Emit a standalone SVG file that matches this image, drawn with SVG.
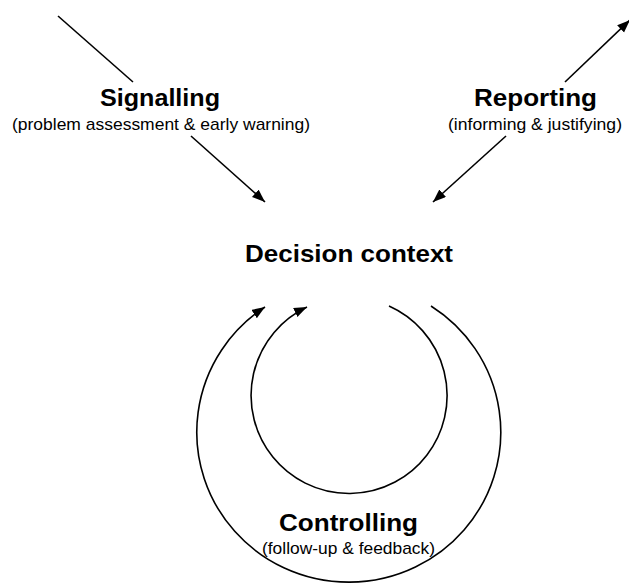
<svg xmlns="http://www.w3.org/2000/svg" width="629" height="583" viewBox="0 0 629 583">
  <style>
    .title { font-family: "Liberation Sans", Arial, sans-serif; font-weight: bold; font-size: 24px; fill: #000; text-anchor: middle; }
    .sub { font-family: "Liberation Sans", Arial, sans-serif; font-size: 17px; fill: #000; text-anchor: middle; }
    .edge { fill: none; stroke: #000; stroke-width: 1.6; }
  </style>
  <defs>
    <marker id="arrow" markerUnits="userSpaceOnUse" markerWidth="14" markerHeight="11" refX="13" refY="5" orient="auto">
      <path d="M0,0 L13,5 L0,10 z" fill="#000"/>
    </marker>
  </defs>

  <rect width="629" height="583" fill="#fff"/>

  <!-- connectors -->
  <g id="connectors">
    <!-- signalling: into the decision context -->
    <line class="edge" x1="58" y1="16" x2="133" y2="82"/>
    <line class="edge" x1="191" y1="136" x2="265" y2="202" marker-end="url(#arrow)"/>
    <!-- reporting: out to the top right and back into the decision context -->
    <line class="edge" x1="565" y1="82" x2="630" y2="20" marker-end="url(#arrow)"/>
    <line class="edge" x1="506" y1="136" x2="433" y2="202" marker-end="url(#arrow)"/>
    <!-- controlling loops -->
    <path class="edge" d="M389,306 A98,98 0 1 1 307,307" marker-end="url(#arrow)"/>
    <path class="edge" d="M431,306 A152,150 0 1 1 265,307" marker-end="url(#arrow)"/>
  </g>

  <g id="signalling">
    <text class="title" x="160" y="106" textLength="120" lengthAdjust="spacingAndGlyphs">Signalling</text>
    <text class="sub" x="161" y="130" textLength="298" lengthAdjust="spacingAndGlyphs">(problem assessment &amp; early warning)</text>
  </g>

  <g id="reporting">
    <text class="title" x="535.5" y="106" textLength="123" lengthAdjust="spacingAndGlyphs">Reporting</text>
    <text class="sub" x="535" y="130" textLength="174" lengthAdjust="spacingAndGlyphs">(informing &amp; justifying)</text>
  </g>

  <g id="decision-context">
    <text class="title" x="349" y="262" textLength="208" lengthAdjust="spacingAndGlyphs">Decision context</text>
  </g>

  <g id="controlling">
    <text class="title" x="348.5" y="531" textLength="139" lengthAdjust="spacingAndGlyphs">Controlling</text>
    <text class="sub" x="348.5" y="554" textLength="173" lengthAdjust="spacingAndGlyphs">(follow-up &amp; feedback)</text>
  </g>
</svg>
